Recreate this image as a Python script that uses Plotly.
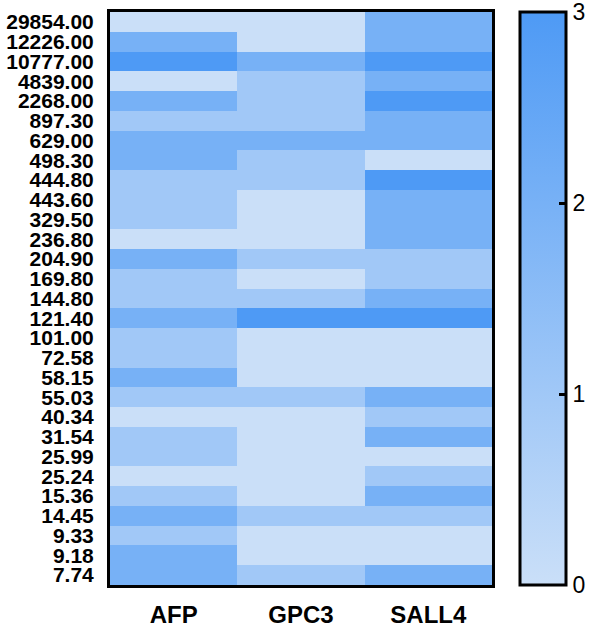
import plotly.graph_objects as go

row_labels = ["29854.00", "12226.00", "10777.00", "4839.00", "2268.00", "897.30", "629.00",
              "498.30", "444.80", "443.60", "329.50", "236.80", "204.90", "169.80", "144.80",
              "121.40", "101.00", "72.58", "58.15", "55.03", "40.34", "31.54", "25.99",
              "25.24", "15.36", "14.45", "9.33", "9.18", "7.74"]
genes = ["AFP", "GPC3", "SALL4"]

afp = [0, 2, 3, 0, 2, 1, 2, 2, 1, 1, 1, 0, 2, 1, 1, 2, 1, 1, 2, 1, 0, 1, 1, 0, 1, 2, 1, 2, 2]
gpc3 = [0, 0, 2, 1, 1, 1, 2, 1, 1, 0, 0, 0, 1, 0, 1, 3, 0, 0, 0, 1, 0, 0, 0, 0, 0, 1, 0, 0, 1]
sall4 = [2, 2, 3, 2, 3, 2, 2, 0, 3, 2, 2, 2, 1, 1, 2, 3, 0, 0, 0, 2, 1, 2, 0, 1, 2, 1, 0, 0, 2]

cb_ticks = [0, 1, 2, 3]
zmin, zmax = 0, 3

z = [[a, g, s] for a, g, s in zip(afp, gpc3, sall4)]

W, H = 597, 627
ML, MT = 110, 12
PW, PH = 382, 573
MR, MB = W - ML - PW, H - MT - PH

cb_x = 410 / PW          # colour bar left edge, paper units
tick_len_paper = 8 / PW

fig = go.Figure(go.Heatmap(
    z=z, x=genes, y=row_labels,
    zmin=zmin, zmax=zmax,
    colorscale=[[0, "rgb(202,223,248)"], [1, "rgb(78,154,245)"]],
    colorbar=dict(
        x=cb_x, xanchor="left", xref="paper",
        y=0.5, yanchor="middle", len=1, lenmode="fraction",
        thickness=46, outlinewidth=3, outlinecolor="black",
        tickvals=cb_ticks, ticktext=[str(t) for t in cb_ticks],
        ticks="inside", ticklen=8, tickwidth=3, tickcolor="black",
        ticklabeloverflow="allow",
        tickfont=dict(family="Liberation Sans, Arial", size=23, color="black"),
        ypad=0, xpad=0,
    ),
))

# left-side inner tick marks of the colour bar (mirror of the right-side ones)
for t in cb_ticks[1:-1]:
    yp = (t - zmin) / (zmax - zmin)
    fig.add_shape(type="line", xref="paper", yref="paper",
                  x0=cb_x, x1=cb_x + tick_len_paper, y0=yp, y1=yp,
                  line=dict(color="black", width=3))

fig.update_layout(
    width=W, height=H,
    margin=dict(l=ML, r=MR, t=MT, b=MB, autoexpand=False),
    plot_bgcolor="white", paper_bgcolor="white",
    font=dict(family="Liberation Sans, Arial", color="black"),
)
fig.update_xaxes(
    showline=True, mirror=True, linewidth=3, linecolor="black",
    ticks="", showgrid=False, zeroline=False,
    tickfont=dict(family="Liberation Sans, Arial", size=24, color="black", weight="bold"),
    ticklabelstandoff=6,
)
fig.update_yaxes(
    showline=True, mirror=True, linewidth=3, linecolor="black",
    ticks="", showgrid=False, zeroline=False, autorange="reversed",
    tickmode="array", tickvals=row_labels, ticktext=row_labels,
    tickfont=dict(family="Liberation Sans, Arial", size=21, color="black", weight="bold"),
    ticklabelstandoff=9,
)

fig.write_html(
    "out.html",
    config={"displayModeBar": False},
    post_script="document.body.style.margin='0px';document.body.style.overflow='hidden';",
)
